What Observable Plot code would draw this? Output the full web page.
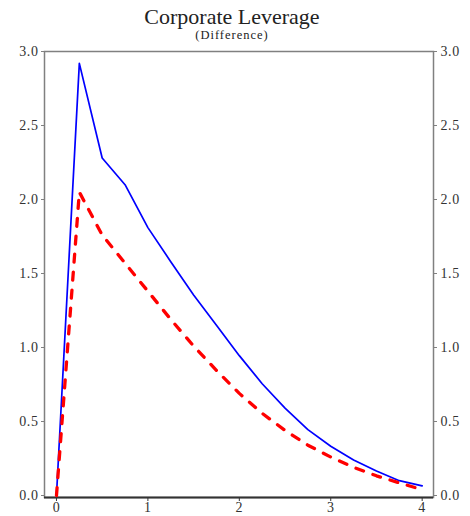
<!DOCTYPE html>
<html><head><meta charset="utf-8">
<script src="https://cdn.jsdelivr.net/npm/d3@7"></script>
<script src="https://cdn.jsdelivr.net/npm/@observablehq/plot@0.6"></script>
<style>
body{margin:0;background:#fff;font-family:"Liberation Serif","Times New Roman",serif;}
#wrap{width:470px;}
#head{position:relative;height:44px;width:464px;color:#222;}
#head .t{position:absolute;left:0;right:0;top:4.6px;text-align:center;font-size:22px;line-height:24.4px;font-family:"Liberation Serif",serif;}
#head .s{position:absolute;left:0;right:0;top:29.4px;text-align:center;font-size:12.5px;line-height:13.9px;letter-spacing:1px;font-family:"Liberation Serif",serif;}
#chart svg, #chart svg text{font-family:"Liberation Serif","Times New Roman",serif !important;font-size:14px !important;}
#chart svg text{letter-spacing:0.6px;}
</style></head><body>
<div id="wrap">
<div id="head"><div class="t">Corporate Leverage</div><div class="s">(Difference)</div></div>
<div id="chart"></div>
</div>
<script>
const xVals    = [0, 0.25, 0.5, 0.75, 1.0, 1.25, 1.5, 1.75, 2.0, 2.25, 2.5, 2.75, 3.0, 3.25, 3.5, 3.75, 4.0];
const blueVals = [0, 2.92, 2.28, 2.10, 1.81, 1.58, 1.355, 1.15, 0.945, 0.755, 0.59, 0.445, 0.333, 0.24, 0.165, 0.10, 0.065];
const redVals  = [0, 2.05, 1.76, 1.57, 1.38, 1.19, 1.01, 0.845, 0.69, 0.555, 0.44, 0.34, 0.26, 0.19, 0.133, 0.085, 0.04];
const yTicks = [0, 0.5, 1.0, 1.5, 2.0, 2.5, 3.0];
const xTicks = [0, 1, 2, 3, 4];
const xDomain = [-0.131, 4.124];
const yDomain = [-0.0135, 3.0];

const data = xVals.map((x, i) => ({x, blue: blueVals[i], red: redVals[i]}));

const font = {fontFamily: "Liberation Serif", fontSize: 14};

const chart = Plot.plot({
  width: 470,
  height: 472,
  marginTop: 7,
  marginBottom: 19,
  marginLeft: 44,
  marginRight: 37,
  x: {domain: xDomain},
  y: {domain: yDomain},
  style: {fontFamily: "'Liberation Serif', 'Times New Roman', serif", fontSize: "14px", color: "#333", background: "white"},
  marks: [
    Plot.frame({stroke: "#808080", strokeWidth: 1.5}),
    Plot.ruleY([yDomain[0]], {stroke: "#333", strokeWidth: 2}),
    Plot.axisY(yTicks, {anchor: "left", tickFormat: d => d.toFixed(1), tickSize: 3, tickPadding: 3, stroke: "#808080", label: null, ...font}),
    Plot.axisY(yTicks, {anchor: "right", tickFormat: d => d.toFixed(1), tickSize: 3, tickPadding: 4, stroke: "#808080", label: null, ...font}),
    Plot.axisX(xTicks, {anchor: "bottom", tickFormat: d => String(d), tickSize: 4, tickPadding: 1, stroke: "#333", label: null, ...font}),
    Plot.line(data, {x: "x", y: "blue", stroke: "#0000ff", strokeWidth: 1.7}),
    Plot.line(data, {x: "x", y: "red", stroke: "#ff0000", strokeWidth: 3.3, strokeDasharray: "8,10", strokeLinecap: "round"})
  ]
});
document.getElementById("chart").appendChild(chart);
</script>
</body></html>
